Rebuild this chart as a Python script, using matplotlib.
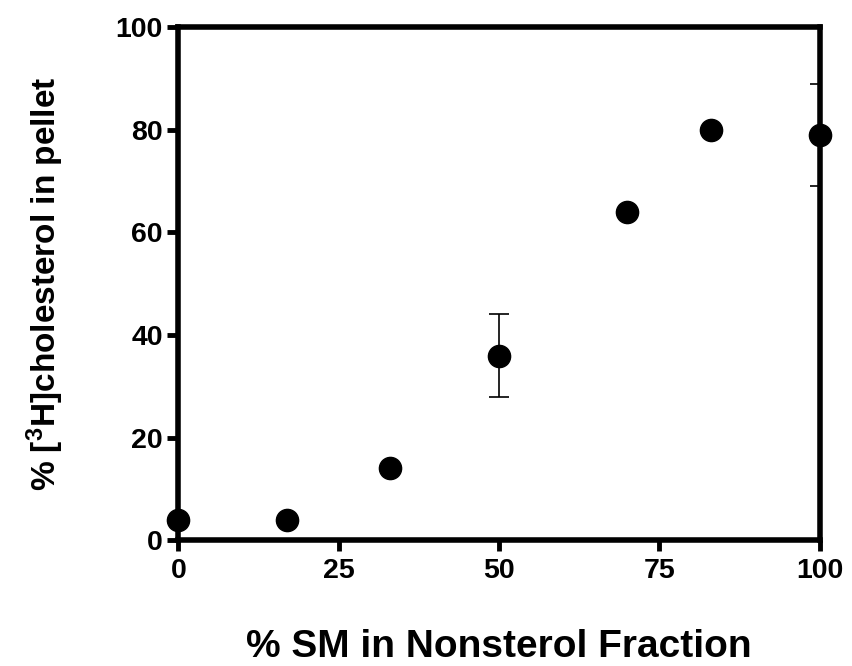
import numpy as np
import matplotlib
matplotlib.use("Agg")
import matplotlib.pyplot as plt
from matplotlib import font_manager

plt.rcParams['font.family'] = ['Liberation Sans', 'DejaVu Sans']
plt.rcParams['font.weight'] = 'bold'
plt.rcParams['mathtext.fontset'] = 'custom'
plt.rcParams['mathtext.bf'] = 'Liberation Sans:bold'
plt.rcParams['mathtext.rm'] = 'Liberation Sans:bold'
plt.rcParams['mathtext.default'] = 'bf'

sm_pct = [0, 17, 33, 50, 70, 83, 100]
chol_pellet = [4, 4, 14, 36, 64, 80, 79]
chol_err = [0, 0, 0, 8, 0, 0, 10]
x_ticks = [0, 25, 50, 75, 100]
y_ticks = [0, 20, 40, 60, 80, 100]

fig = plt.figure(figsize=(8.53, 6.66), dpi=100)
ax = fig.add_axes([0.209, 0.189, 0.752, 0.770])

# error bars first, so the right spine covers the one at 100
err_idx = [i for i in range(len(chol_err)) if chol_err[i] > 0]
ax.errorbar(np.array(sm_pct)[err_idx], np.array(chol_pellet)[err_idx],
            yerr=np.array(chol_err)[err_idx], fmt='none', ecolor='black',
            elinewidth=1.2, capsize=7, capthick=1.2, zorder=1)
ax.plot(sm_pct, chol_pellet, 'o', color='black', markersize=16,
        clip_on=False, zorder=5)

ax.set_xlim(0, 100)
ax.set_ylim(0, 100)
ax.set_xticks(x_ticks)
ax.set_yticks(y_ticks)
for s in ax.spines.values():
    s.set_linewidth(4)
    s.set_zorder(3)
ax.tick_params(width=3.5, length=8, labelsize=20.5)
ax.tick_params(axis='y', pad=3)
ax.tick_params(axis='x', pad=5)
for lbl in ax.get_xticklabels() + ax.get_yticklabels():
    lbl.set_fontweight('bold')

ax.set_xlabel('% SM in Nonsterol Fraction', fontsize=28, fontweight='bold', labelpad=32)

# the y label in the original is a tall, narrow face
names = {f.name for f in font_manager.fontManager.ttflist}
if 'Liberation Sans Narrow' in names:
    ax.set_ylabel('% [$^3$H]cholesterol in pellet', fontsize=28, fontweight='bold',
                  family='Liberation Sans Narrow', labelpad=30)
else:
    ax.set_ylabel('% [$^3$H]cholesterol in pellet', fontsize=24, fontweight='bold',
                  labelpad=36)

fig.savefig('out.png', dpi=100)
